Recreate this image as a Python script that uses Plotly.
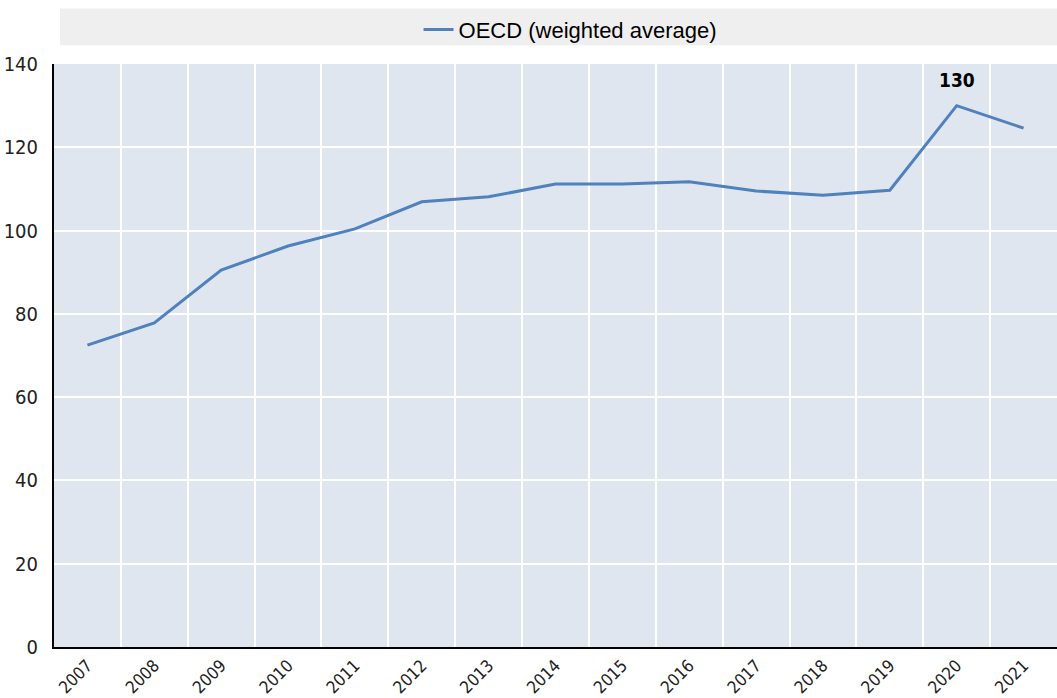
import plotly.graph_objects as go

years = ["2007", "2008", "2009", "2010", "2011", "2012", "2013", "2014",
         "2015", "2016", "2017", "2018", "2019", "2020", "2021"]
oecd_avg = [72.5, 77.8, 90.5, 96.3, 100.4, 106.9, 108.1, 111.2,
            111.2, 111.7, 109.5, 108.5, 109.7, 130.0, 124.6]
series_name = "OECD (weighted average)"
y_ticks = [0, 20, 40, 60, 80, 100, 120, 140]

narrow = "Liberation Sans Narrow, Arial Narrow, DejaVu Sans Condensed, Liberation Sans, Arial"
line_color = "#4f81bd"

fig = go.Figure()
fig.add_trace(go.Scatter(
    x=years, y=oecd_avg, mode="lines", name=series_name,
    line=dict(color=line_color, width=3),
))

# label the peak value (category axis: position by index)
peak_i = oecd_avg.index(max(oecd_avg))
fig.add_annotation(
    x=peak_i, y=oecd_avg[peak_i], text=f"<b>{oecd_avg[peak_i]:.0f}</b>",
    showarrow=False, yshift=26,
    font=dict(family=narrow, size=19, color="#000000"),
)

# legend band across the top
fig.add_shape(type="rect", xref="paper", yref="paper",
              x0=0.006, x1=1.0, y0=1.032, y1=1.095,
              fillcolor="#efefef", line=dict(width=0), layer="below")

fig.update_layout(
    width=1057, height=698,
    margin=dict(l=54, r=0, t=64, b=51),
    paper_bgcolor="#ffffff",
    plot_bgcolor="#dfe6f0",
    showlegend=True,
    legend=dict(orientation="h", x=0.515, xanchor="center", y=1.095, yanchor="top",
                bgcolor="rgba(0,0,0,0)",
                font=dict(family="Liberation Sans, Arial", size=22, color="#000000")),
    xaxis=dict(
        type="category", tickson="boundaries", range=[-0.5, 14.5],
        automargin=False,
        showgrid=True, gridcolor="#ffffff", gridwidth=2,
        showline=True, linecolor="#000000", linewidth=2,
        ticks="", tickangle=-45,
        tickfont=dict(family=narrow, size=17, color="#222222"),
    ),
    yaxis=dict(
        range=[0, 140], tickvals=y_ticks, automargin=False,
        showgrid=True, gridcolor="#ffffff", gridwidth=2,
        zeroline=False,
        showline=True, linecolor="#000000", linewidth=2,
        ticks="", ticklabelstandoff=10,
        tickfont=dict(family=narrow, size=20, color="#222222"),
    ),
)

fig.write_html("out.html")
